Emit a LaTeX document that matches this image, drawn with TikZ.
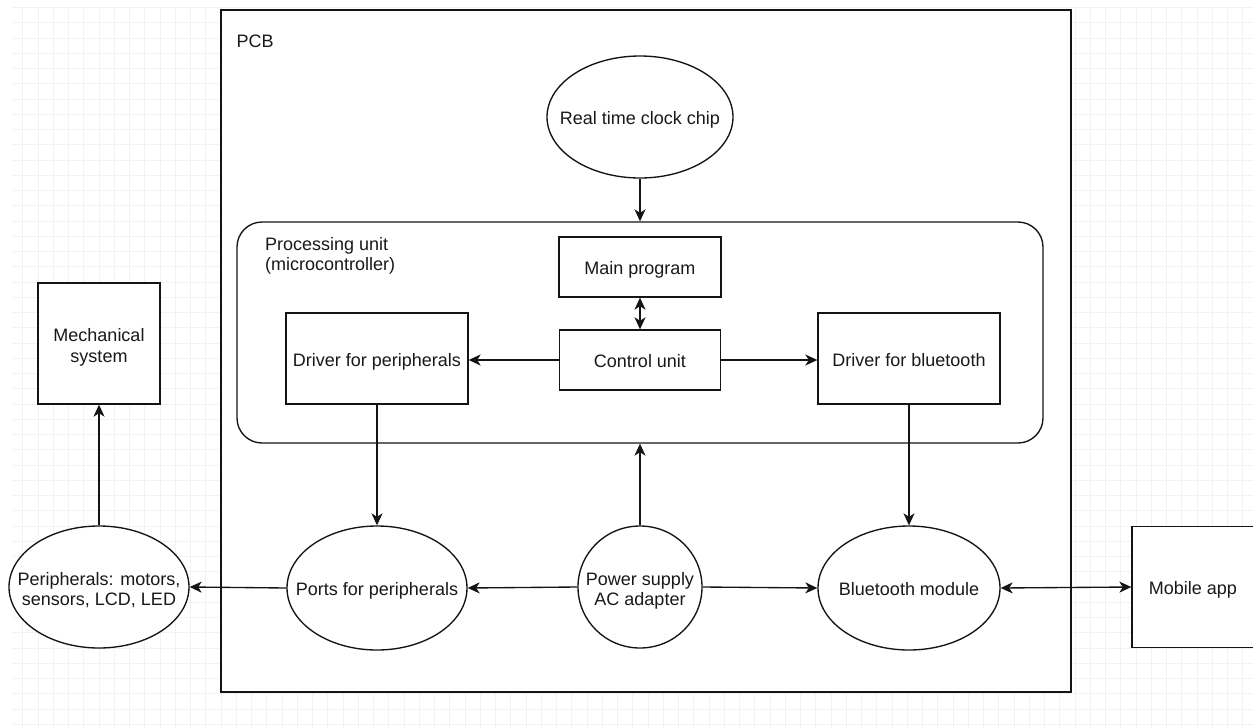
\documentclass[tikz,border=0pt]{standalone}
\usepackage{fontspec}
\setmainfont{Liberation Sans}
\usetikzlibrary{shapes.geometric,arrows.meta}
\newcommand{\lblone}[1]{\makebox[0pt]{\raisebox{-8pt}[0pt][0pt]{\begin{tabular}{@{}c@{}}#1\end{tabular}}}}
\newcommand{\lbltwo}[1]{\makebox[0pt]{\raisebox{-8.5pt}[0pt][0pt]{\begin{tabular}{@{}c@{}}#1\end{tabular}}}}
\begin{document}
\begin{tikzpicture}[x=1pt,y=-1pt,
  every node/.style={font=\fontsize{18}{20.5}\selectfont, text=black!90},
  line/.style={line width=1.35pt, draw=black!92},
  conn/.style={line, -{Stealth[length=12pt,width=11pt,inset=3.5pt]}},
  biconn/.style={line, {Stealth[length=12pt,width=11pt,inset=3.5pt]}-{Stealth[length=12pt,width=11pt,inset=3.5pt]}},
  boxnode/.style={draw=black!92, line width=1.35pt, fill=white, rectangle, inner sep=0pt},
  ellnode/.style={draw=black!92, line width=1.35pt, fill=white, ellipse, inner sep=0pt},
  gridline/.style={draw=black!5, line width=0.8pt}
]
\clip (0,0) rectangle (1253,728);
\fill[white] (0,0) rectangle (1253,728);
% grid
\foreach \i in {0,...,81} {
  \draw[gridline] ({22.7+15.25*\i},8) -- ({22.7+15.25*\i},728);
}
\foreach \j in {0,...,47} {
  \draw[gridline] (12,{7.45+15.25*\j}) -- (1253,{7.45+15.25*\j});
}
% PCB
\node[boxnode, minimum width=850pt, minimum height=682pt] (pcb) at (646,351) {};
\node[anchor=west] (pcblabel) at (233,41) {PCB};
% RTC
\node[ellnode, minimum width=186pt, minimum height=122pt] (rtc) at (640,117) {\lblone{Real time clock chip}};
% processing unit
\node[draw=black!92, line width=1.35pt, fill=white, rectangle, rounded corners=25pt, minimum width=806pt, minimum height=221pt, inner sep=0pt] (pu) at (640,332.5) {};
\node[anchor=north west, align=left, inner sep=0pt] (pulabel) at (265,237) {Processing unit\\(microcontroller)};
\node[boxnode, minimum width=162pt, minimum height=60pt] (main) at (640,267) {\lblone{Main program}};
\node[boxnode, minimum width=161pt, minimum height=60pt] (cu) at (640,360) {\lblone{Control unit}};
\node[boxnode, minimum width=182pt, minimum height=91pt] (dp) at (377,358.5) {\lblone{Driver for peripherals}};
\node[boxnode, minimum width=182pt, minimum height=91pt] (db) at (909,358.5) {\lblone{Driver for bluetooth}};
% left outside
\node[boxnode, minimum width=122pt, minimum height=121pt] (mech) at (99,343.5) {\lbltwo{Mechanical\\system}};
\node[ellnode, minimum width=180pt, minimum height=122pt] (per) at (99,587) {\lbltwo{Peripherals: motors,\\sensors, LCD, LED}};
% bottom row
\node[ellnode, minimum width=180pt, minimum height=124pt] (ports) at (377,588) {\lblone{Ports for peripherals}};
\node[ellnode, minimum width=124pt, minimum height=122pt] (pow) at (640,587) {\lbltwo{Power supply\\AC adapter}};
\node[ellnode, minimum width=182pt, minimum height=124pt] (bt) at (909,588) {\lblone{Bluetooth module}};
\node[boxnode, minimum width=122pt, minimum height=121pt] (app) at (1193,587) {\lblone{Mobile app}};
% connectors
\draw[conn] (rtc.south) -- (pu.north -| rtc.south);
\draw[biconn] (main.south) -- (cu.north);
\draw[conn] (cu.west) -- (dp.east |- cu.west);
\draw[conn] (cu.east) -- (db.west |- cu.east);
\draw[conn] (dp.south) -- (ports.north);
\draw[conn] (db.south) -- (bt.north);
\draw[conn] (pow.north) -- (pu.south -| pow.north);
\draw[conn] (pow.west) -- (ports.east);
\draw[conn] (pow.east) -- (bt.west);
\draw[conn] (ports.west) -- (per.east);
\draw[conn] (per.north) -- (mech.south);
\draw[biconn] (bt.east) -- (app.west);
\end{tikzpicture}
\end{document}
